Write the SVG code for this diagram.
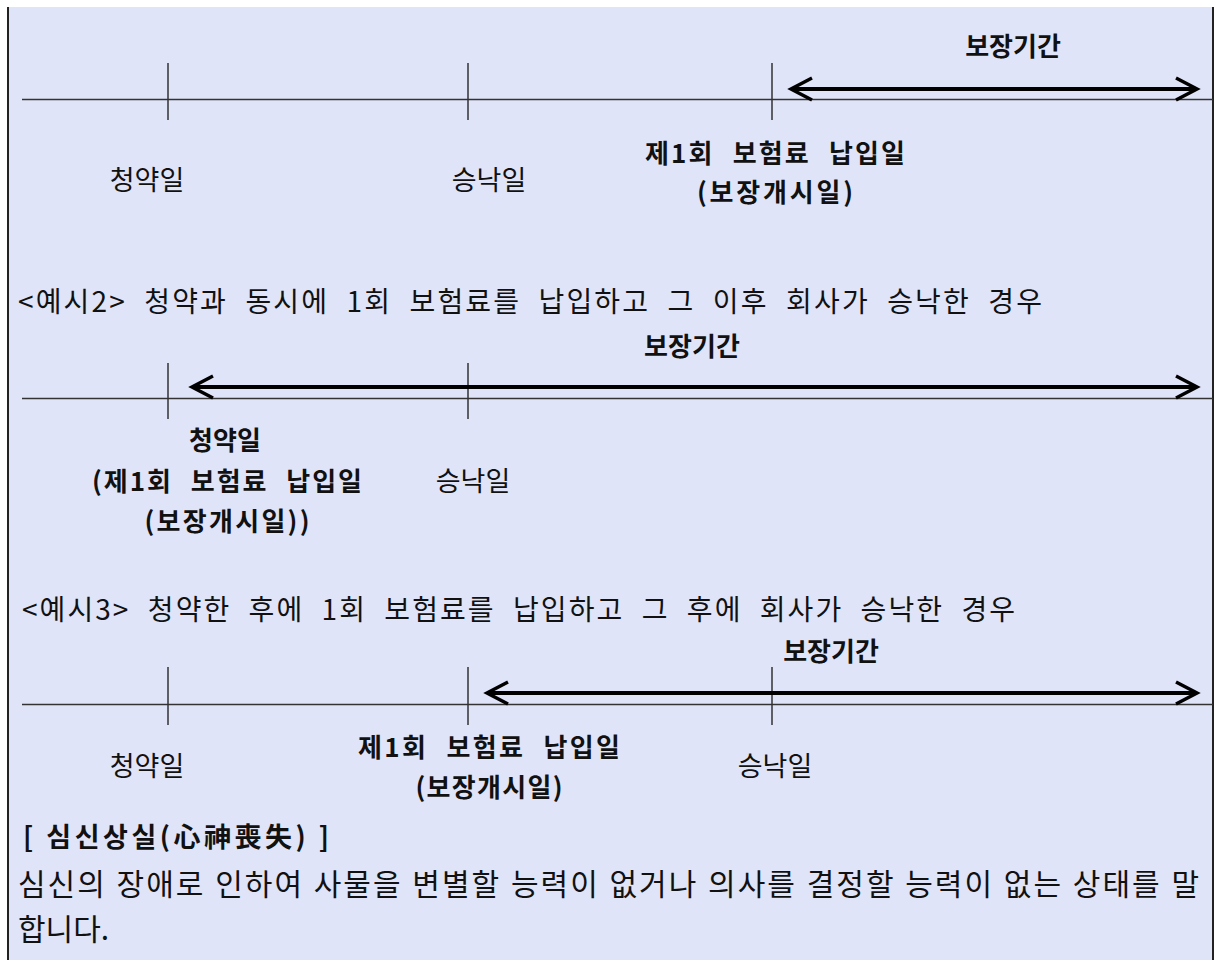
<svg xmlns="http://www.w3.org/2000/svg" width="1215" height="960" viewBox="0 0 1215 960">
<style>
.bg{fill:#e0e4f8}
.border{stroke:#222;stroke-width:2}
.axis{stroke:#333;stroke-width:1.5}
.tick{stroke:#333;stroke-width:1.5}
.span{stroke:#000;stroke-width:4;marker-start:url(#chev);marker-end:url(#chev)}
text{font-family:"Noto Sans CJK KR","Noto Sans",sans-serif;fill:#111}
.n{font-size:27px;text-anchor:middle}
.b{font-size:26px;font-weight:bold;text-anchor:middle;word-spacing:10px}
.h{font-size:28px;word-spacing:9px}
.body{font-size:30px;word-spacing:1px}
</style>
<defs>
<marker id="chev" markerUnits="userSpaceOnUse" orient="auto-start-reverse" markerWidth="30" markerHeight="30" viewBox="-26 -14 30 28" refX="0" refY="0">
<path d="M-21,-11 L0,0 L-21,11" fill="none" stroke="#000" stroke-width="3.5"/>
</marker>
</defs>
<rect class="bg" x="7" y="7" width="1206" height="953"/>
<line class="border" x1="8" y1="7" x2="8" y2="960"/>
<line class="border" x1="1213" y1="7" x2="1213" y2="960"/>

<g id="connectors">
<line class="axis" x1="22" y1="99.5" x2="1213" y2="99.5"/>
<line class="tick" x1="168" y1="63" x2="168" y2="120"/>
<line class="tick" x1="468" y1="63" x2="468" y2="120"/>
<line class="tick" x1="772" y1="63" x2="772" y2="120"/>
<line class="span" x1="791" y1="89" x2="1197" y2="89"/>

<line class="axis" x1="22" y1="398.5" x2="1213" y2="398.5"/>
<line class="tick" x1="168" y1="363" x2="168" y2="419"/>
<line class="tick" x1="468" y1="363" x2="468" y2="419"/>
<line class="span" x1="192" y1="387" x2="1197" y2="387"/>

<line class="axis" x1="22" y1="704.5" x2="1213" y2="704.5"/>
<line class="tick" x1="168" y1="667" x2="168" y2="725"/>
<line class="tick" x1="468" y1="667" x2="468" y2="725"/>
<line class="tick" x1="772" y1="667" x2="772" y2="725"/>
<line class="span" x1="487" y1="693" x2="1197" y2="693"/>
</g>

<g id="t1-period"><text class="b" x="1013" y="56">보장기간</text></g>
<g id="t1-apply"><text class="n" x="147" y="190">청약일</text></g>
<g id="t1-accept"><text class="n" x="489" y="190">승낙일</text></g>
<g id="t1-pay"><text class="b" x="775" y="163" textLength="260">제1회 보험료 납입일</text>
<text class="b" x="775" y="202" textLength="156">(보장개시일)</text></g>

<g id="heading2"><text class="h" x="18" y="312" textLength="1024">&lt;예시2&gt; 청약과 동시에 1회 보험료를 납입하고 그 이후 회사가 승낙한 경우</text></g>
<g id="t2-period"><text class="b" x="692" y="356" textLength="96">보장기간</text></g>
<g id="t2-apply"><text class="b" x="225" y="450">청약일</text>
<text class="b" x="227" y="491" textLength="270">(제1회 보험료 납입일</text>
<text class="b" x="227" y="531" textLength="165">(보장개시일))</text></g>
<g id="t2-accept"><text class="n" x="473" y="491">승낙일</text></g>

<g id="heading3"><text class="h" x="22" y="620" textLength="993">&lt;예시3&gt; 청약한 후에 1회 보험료를 납입하고 그 후에 회사가 승낙한 경우</text></g>
<g id="t3-period"><text class="b" x="831" y="661">보장기간</text></g>
<g id="t3-apply"><text class="n" x="147" y="776">청약일</text></g>
<g id="t3-pay"><text class="b" x="489" y="757" textLength="262">제1회 보험료 납입일</text>
<text class="b" x="489" y="797" textLength="147">(보장개시일)</text></g>
<g id="t3-accept"><text class="n" x="775" y="776">승낙일</text></g>

<g id="definition">
<text x="23" y="847" font-size="27" font-weight="bold" textLength="306">[ 심신상실(心神喪失) ]</text>
<text class="body" x="18" y="895" textLength="1181">심신의 장애로 인하여 사물을 변별할 능력이 없거나 의사를 결정할 능력이 없는 상태를 말</text>
<text class="body" x="18" y="940">합니다.</text>
</g>
</svg>
